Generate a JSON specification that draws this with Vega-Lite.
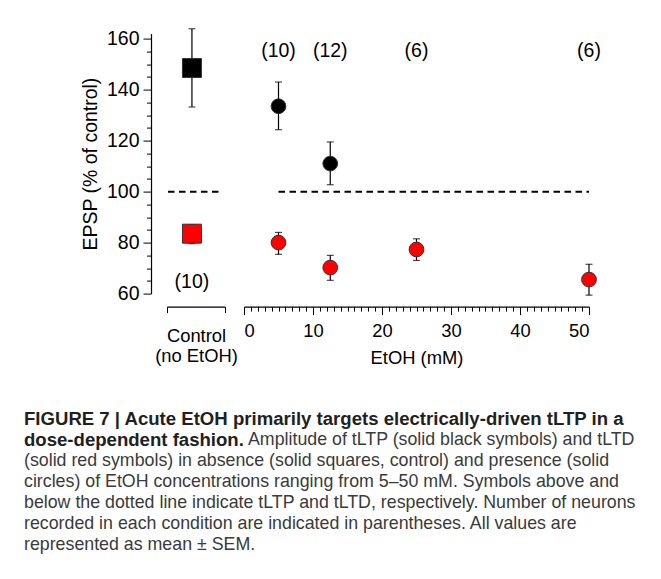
{
  "$schema": "https://vega.github.io/schema/vega-lite/v6.json",
  "background": "white",
  "padding": {"left": 24, "top": 27.6, "right": 5, "bottom": 5},
  "bounds": "flush",
  "columns": 2,
  "spacing": {"row": 125.8, "column": 19},
  "config": {
    "view": {"stroke": null},
    "font": "Liberation Sans",
    "axis": {
      "labelFont": "Liberation Sans", "titleFont": "Liberation Sans",
      "labelFontSize": 18.4, "titleFontSize": 18.4, "titleFontWeight": "normal",
      "labelColor": "#000", "titleColor": "#000", "domainColor": "#000", "tickColor": "#000",
      "domainWidth": 1.2, "tickWidth": 1, "grid": false
    }
  },
  "concat": [
    {
      "width": 58, "height": 260,
      "encoding": {
        "x": {"field": "x", "type": "quantitative", "scale": {"domain": [0, 1], "nice": false, "zero": false},
          "axis": {"values": [0, 1], "labels": false, "tickSize": 6, "offset": 13, "title": ["Control", "(no EtOH)"], "titlePadding": 13, "titleLineHeight": 20}}
      },
      "layer": [
        {
          "data": {"values": [{"x": 0.017, "x2": 0.966, "y": 100}]},
          "mark": {"type": "rule", "strokeDash": [6.5, 4.5], "strokeWidth": 2, "color": "#000"},
          "encoding": {
            "x2": {"field": "x2"},
            "y": {"field": "y", "type": "quantitative", "scale": {"domain": [60, 162], "nice": false, "zero": false},
              "axis": {"values": [60,65,70,75,80,85,90,95,100,105,110,115,120,125,130,135,140,145,150,155,160],
                "labelExpr": "datum.value % 20 === 0 ? datum.label : ''", "labelFontSize": 19.5, "titleFontSize": 19.5,
                "tickSize": {"condition": {"test": "datum.value % 20 === 0", "value": 8}, "value": 4.5},
                "offset": 16, "labelPadding": 4, "title": "EPSP (% of control)", "titlePadding": 6}}
          }
        },
        {
          "data": {"name": "ctrl"},
          "layer": [
            {"mark": {"type": "rule", "color": "#000", "strokeWidth": 1.2},
             "encoding": {"y": {"field": "lo", "type": "quantitative", "scale": {"domain": [60, 162], "nice": false, "zero": false},
               "axis": {"values": [60,65,70,75,80,85,90,95,100,105,110,115,120,125,130,135,140,145,150,155,160],
                "labelExpr": "datum.value % 20 === 0 ? datum.label : ''", "labelFontSize": 19.5, "titleFontSize": 19.5,
                "tickSize": {"condition": {"test": "datum.value % 20 === 0", "value": 8}, "value": 4.5},
                "offset": 16, "labelPadding": 4, "title": "EPSP (% of control)", "titlePadding": 6}}, "y2": {"field": "hi"}}},
            {"mark": {"type": "tick", "orient": "horizontal", "size": 7, "thickness": 1.2, "color": "#000"},
             "encoding": {"y": {"field": "hi", "type": "quantitative", "scale": {"domain": [60, 162], "nice": false, "zero": false},
               "axis": {"values": [60,65,70,75,80,85,90,95,100,105,110,115,120,125,130,135,140,145,150,155,160],
                "labelExpr": "datum.value % 20 === 0 ? datum.label : ''", "labelFontSize": 19.5, "titleFontSize": 19.5,
                "tickSize": {"condition": {"test": "datum.value % 20 === 0", "value": 8}, "value": 4.5},
                "offset": 16, "labelPadding": 4, "title": "EPSP (% of control)", "titlePadding": 6}}}},
            {"mark": {"type": "tick", "orient": "horizontal", "size": 7, "thickness": 1.2, "color": "#000"},
             "encoding": {"y": {"field": "lo", "type": "quantitative", "scale": {"domain": [60, 162], "nice": false, "zero": false},
               "axis": {"values": [60,65,70,75,80,85,90,95,100,105,110,115,120,125,130,135,140,145,150,155,160],
                "labelExpr": "datum.value % 20 === 0 ? datum.label : ''", "labelFontSize": 19.5, "titleFontSize": 19.5,
                "tickSize": {"condition": {"test": "datum.value % 20 === 0", "value": 8}, "value": 4.5},
                "offset": 16, "labelPadding": 4, "title": "EPSP (% of control)", "titlePadding": 6}}}},
            {"mark": {"type": "square", "size": 361, "opacity": 1, "stroke": "#333", "strokeWidth": 1},
             "encoding": {"y": {"field": "y", "type": "quantitative", "scale": {"domain": [60, 162], "nice": false, "zero": false},
               "axis": {"values": [60,65,70,75,80,85,90,95,100,105,110,115,120,125,130,135,140,145,150,155,160],
                "labelExpr": "datum.value % 20 === 0 ? datum.label : ''", "labelFontSize": 19.5, "titleFontSize": 19.5,
                "tickSize": {"condition": {"test": "datum.value % 20 === 0", "value": 8}, "value": 4.5},
                "offset": 16, "labelPadding": 4, "title": "EPSP (% of control)", "titlePadding": 6}},
               "fill": {"field": "type", "type": "nominal", "scale": {"domain": ["tLTP", "tLTD"], "range": ["#000000", "#ff0000"]}, "legend": null}}}
          ]
        },
        {
          "data": {"values": [{"x": 0.43, "y": 64.5, "n": "(10)"}]},
          "mark": {"type": "text", "fontSize": 19.5, "color": "#000", "baseline": "middle"},
          "encoding": {"y": {"field": "y", "type": "quantitative", "scale": {"domain": [60, 162], "nice": false, "zero": false},
               "axis": {"values": [60,65,70,75,80,85,90,95,100,105,110,115,120,125,130,135,140,145,150,155,160],
                "labelExpr": "datum.value % 20 === 0 ? datum.label : ''", "labelFontSize": 19.5, "titleFontSize": 19.5,
                "tickSize": {"condition": {"test": "datum.value % 20 === 0", "value": 8}, "value": 4.5},
                "offset": 16, "labelPadding": 4, "title": "EPSP (% of control)", "titlePadding": 6}}, "text": {"field": "n"}}
        }
      ]
    },
    {
      "width": 345, "height": 260,
      "encoding": {
        "x": {"field": "x", "type": "quantitative", "scale": {"domain": [0, 50], "nice": false, "zero": false},
          "axis": {"values": [0,1,2,3,4,5,6,7,8,9,10,11,12,13,14,15,16,17,18,19,20,21,22,23,24,25,26,27,28,29,30,31,32,33,34,35,36,37,38,39,40,41,42,43,44,45,46,47,48,49,50],
            "labelExpr": "datum.value % 10 === 0 ? datum.label : ''",
            "tickSize": {"condition": {"test": "datum.value % 10 === 0", "value": 8}, "value": 4.5},
            "offset": 13, "labelPadding": 7, "title": "EtOH (mM)", "titlePadding": 9}}
      },
      "layer": [
        {
          "data": {"values": [{"x": 5, "x2": 50, "y": 100}]},
          "mark": {"type": "rule", "strokeDash": [6.5, 4.5], "strokeWidth": 2, "color": "#000"},
          "encoding": {
            "x2": {"field": "x2"},
            "y": {"field": "y", "type": "quantitative", "scale": {"domain": [60, 162], "nice": false, "zero": false}, "axis": null}
          }
        },
        {
          "data": {"name": "etoh"},
          "layer": [
            {"mark": {"type": "rule", "color": "#000", "strokeWidth": 1.2},
             "encoding": {"y": {"field": "lo", "type": "quantitative", "scale": {"domain": [60, 162], "nice": false, "zero": false}, "axis": null}, "y2": {"field": "hi"}}},
            {"mark": {"type": "tick", "orient": "horizontal", "size": 7, "thickness": 1.2, "color": "#000"},
             "encoding": {"y": {"field": "hi", "type": "quantitative", "scale": {"domain": [60, 162], "nice": false, "zero": false}, "axis": null}}},
            {"mark": {"type": "tick", "orient": "horizontal", "size": 7, "thickness": 1.2, "color": "#000"},
             "encoding": {"y": {"field": "lo", "type": "quantitative", "scale": {"domain": [60, 162], "nice": false, "zero": false}, "axis": null}}},
            {"mark": {"type": "circle", "size": 218, "opacity": 1, "stroke": "#333", "strokeWidth": 1},
             "encoding": {"y": {"field": "y", "type": "quantitative", "scale": {"domain": [60, 162], "nice": false, "zero": false}, "axis": null},
               "fill": {"field": "type", "type": "nominal", "scale": {"domain": ["tLTP", "tLTD"], "range": ["#000000", "#ff0000"]}, "legend": null}}}
          ]
        },
        {
          "data": {"values": [{"x": 5, "y": 155, "n": "(10)"}, {"x": 12.5, "y": 155, "n": "(12)"}, {"x": 25, "y": 155, "n": "(6)"}, {"x": 50, "y": 155, "n": "(6)"}]},
          "mark": {"type": "text", "fontSize": 19.5, "color": "#000", "baseline": "middle"},
          "encoding": {"y": {"field": "y", "type": "quantitative", "scale": {"domain": [60, 162], "nice": false, "zero": false}, "axis": null}, "text": {"field": "n"}}
        }
      ]
    },
    {
      "width": 58, "height": 126,
      "data": {"name": "caption"},
      "encoding": {
        "y": {"field": "line", "type": "quantitative", "scale": {"domain": [1, 7], "reverse": true, "nice": false, "zero": false}, "axis": null},
        "text": {"field": "text"}
      },
      "layer": [
        {"transform": [{"filter": "datum.part === 'heading'"}],
         "mark": {"type": "text", "align": "left", "baseline": "middle", "dx": -143, "x": 0, "fontSize": 18.6, "fontWeight": "bold", "color": "#231f20"}},
        {"transform": [{"filter": "datum.part === 'body' && datum.line !== 2"}],
         "mark": {"type": "text", "align": "left", "baseline": "middle", "dx": -143, "x": 0, "fontSize": 17.8, "color": "#3a3a3a"}},
        {"transform": [{"filter": "datum.part === 'body' && datum.line === 2"}],
         "mark": {"type": "text", "align": "left", "baseline": "middle", "dx": 81, "x": 0, "fontSize": 17.8, "color": "#3a3a3a"}}
      ]
    }
  ],
  "datasets": {
    "ctrl": [
      {"type": "tLTP", "x": 0.43, "y": 148.5, "lo": 133.2, "hi": 163.9},
      {"type": "tLTD", "x": 0.43, "y": 83.5, "lo": 79.6, "hi": 87.0}
    ],
    "etoh": [
      {"type": "tLTP", "x": 5, "y": 133.5, "lo": 124.3, "hi": 143.0},
      {"type": "tLTP", "x": 12.5, "y": 111.0, "lo": 102.7, "hi": 119.5},
      {"type": "tLTD", "x": 5, "y": 80.0, "lo": 75.4, "hi": 84.0},
      {"type": "tLTD", "x": 12.5, "y": 70.2, "lo": 65.2, "hi": 75.0},
      {"type": "tLTD", "x": 25, "y": 77.3, "lo": 73.0, "hi": 81.5},
      {"type": "tLTD", "x": 50, "y": 65.5, "lo": 59.4, "hi": 71.5}
    ],
    "caption": [
      {"line": 1, "part": "heading", "text": "FIGURE 7 | Acute EtOH primarily targets electrically-driven tLTP in a"},
      {"line": 2, "part": "heading", "text": "dose-dependent fashion."},
      {"line": 2, "part": "body", "text": "Amplitude of tLTP (solid black symbols) and tLTD"},
      {"line": 3, "part": "body", "text": "(solid red symbols) in absence (solid squares, control) and presence (solid"},
      {"line": 4, "part": "body", "text": "circles) of EtOH concentrations ranging from 5–50 mM. Symbols above and"},
      {"line": 5, "part": "body", "text": "below the dotted line indicate tLTP and tLTD, respectively. Number of neurons"},
      {"line": 6, "part": "body", "text": "recorded in each condition are indicated in parentheses. All values are"},
      {"line": 7, "part": "body", "text": "represented as mean ± SEM."}
    ]
  }
}
